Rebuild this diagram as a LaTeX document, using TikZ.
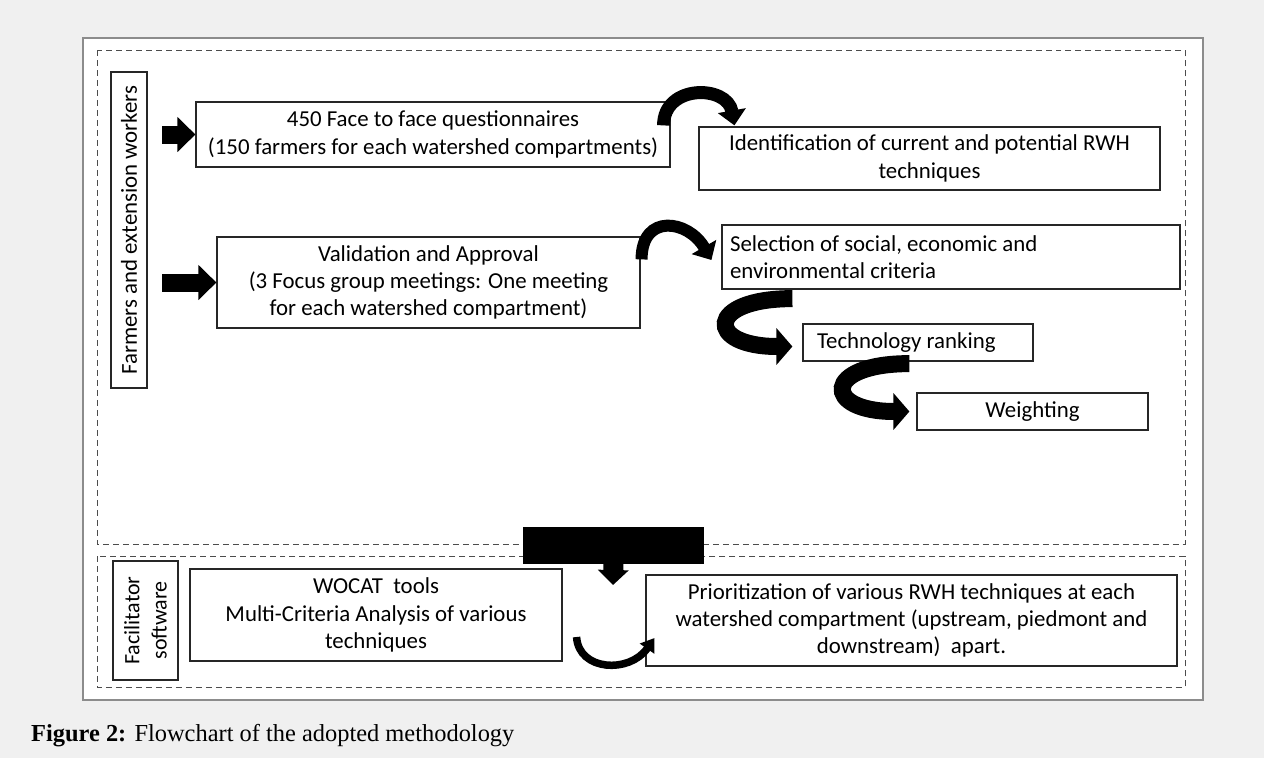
\documentclass[tikz,border=0pt]{standalone}
\usepackage{fontspec}
\setmainfont{Carlito}
\newfontfamily\capfont{Liberation Serif}
\usetikzlibrary{arrows.meta,calc}
\definecolor{bggray}{HTML}{F0F0F0}

\begin{document}
\begin{tikzpicture}[x=0.02cm, y=-0.02cm,
    every node/.style={font=\fontsize{13}{15.5}\selectfont},
    stepbox/.style={draw=black!85, line width=0.7pt, fill=white, inner sep=0pt, align=center},
    zone/.style={draw=black!70, dash pattern=on 0.12cm off 0.08cm, line width=0.5pt},
    fatarrow/.style={line width=0.36cm, -{Triangle[length=0.36cm, width=0.68cm]}},
    bendarrow/.style={line width=0.34cm, -{Triangle[length=0.32cm, width=0.72cm]}}]
    \useasboundingbox (0,0) rectangle (1264,758);
    \fill[bggray] (0,0) rectangle (1264,758);
    \draw[draw=black!45, line width=1.2pt, fill=white] (83,38) rectangle (1203,700);

    \draw[zone] (97,50) rectangle (1185,544);
    \draw[zone] (97,556) rectangle (1185,687);

    \node[stepbox, rotate=90, minimum width=6.32cm, minimum height=0.72cm] (farmers) at (129,230) {Farmers and extension workers};
    \node[stepbox, minimum width=9.48cm, minimum height=1.3cm] (quest) at (433,134.5) {450 Face to face questionnaires\\(150 farmers for each watershed compartments)};
    \node[stepbox, minimum width=9.22cm, minimum height=1.26cm] (ident) at (929.5,158.5) {Identification of current and potential RWH\\techniques};
    \node[stepbox, minimum width=8.46cm, minimum height=1.82cm] (valid) at (428.5,282.5) {Validation and Approval\\(3 Focus group meetings: One meeting\\for each watershed compartment)};
    \node[stepbox, align=flush left, text width=8.84cm, inner xsep=0.16cm, minimum height=1.28cm] (select) at (951,257) {Selection of social, economic and\\environmental criteria};
    \node[stepbox, align=flush left, text width=4.04cm, inner xsep=0.28cm, minimum height=0.74cm] (rank) at (918,342.5) {Technology ranking};
    \node[stepbox, minimum width=4.62cm, minimum height=0.74cm] (weight) at (1032.5,411.5) {Weighting};

    \node[stepbox, rotate=90, minimum width=2.38cm, minimum height=1.3cm, font=\fontsize{12.5}{15.5}\selectfont] (facil) at (145.5,620.5) {Facilitator\\software};
    \node[stepbox, minimum width=7.44cm, minimum height=1.84cm] (wocat) at (376,615) {WOCAT~~tools\\Multi-Criteria Analysis of various\\techniques};
    \node[stepbox, minimum width=10.62cm, minimum height=1.82cm] (prior) at (911.5,620.5) {Prioritization of various RWH techniques at each\\watershed compartment (upstream, piedmont and\\downstream)~~apart.};
    \node[fill=black, inner sep=0pt, minimum width=3.62cm, minimum height=0.74cm] (bar) at (613.5,545.5) {};

    % straight arrows
    \coordinate (in1) at (162,134.5);
    \coordinate (in2) at (162,282.5);
    \coordinate (drop) at (613,585);
    \draw[fatarrow] (in1) -- (quest.west);
    \draw[fatarrow] (in2) -- (valid.west);
    \draw[line width=0.4cm, -{Triangle[length=0.3cm, width=0.6cm]}] ([yshift=0.05cm]bar.south) -- (drop);

    % curved arrows
    \draw[line width=0.26cm, -{Triangle[length=0.3cm, width=0.55cm]}]
        ($(quest.north east)+(-7,24)$) to[out=90, in=100, looseness=1.5] ($(ident.north west)+(36,-1)$);
    \draw[line width=0.24cm, -{Triangle[length=0.3cm, width=0.55cm]}]
        ($(valid.north east)+(1,23)$) to[out=90, in=120, looseness=1.7] ($(select.west)+(-10,3)$);
    \draw[bendarrow] ($(select.south west)+(71,9)$) .. controls +(-87,0) and +(-87,0) .. ($(rank.west)+(-10,4)$);
    \draw[bendarrow] ($(rank.south west)+(107,2)$) .. controls +(-87,0) and +(-87,0) .. ($(weight.west)+(-7,0)$);
    \draw[line width=0.15cm, -{Triangle[length=0.26cm, width=0.34cm]}]
        ($(wocat.east)+(14,22)$) .. controls +(2,34) and +(-25,36) .. ($(prior.west)+(9,17.5)$);

    \node[anchor=base west, font=\capfont\fontsize{13.9}{16}\selectfont] (caption) at (25,741) {\textbf{Figure 2:} Flowchart of the adopted methodology};
\end{tikzpicture}
\end{document}
